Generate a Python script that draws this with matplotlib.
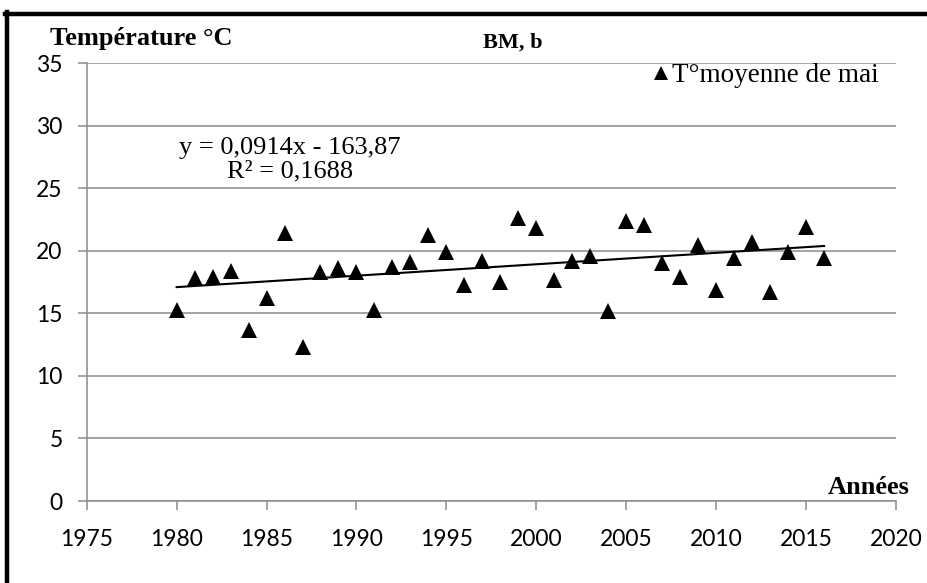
import matplotlib
matplotlib.use("Agg")
import matplotlib.pyplot as plt
from matplotlib.lines import Line2D
import numpy as np

years = [1980, 1981, 1982, 1983, 1984, 1985, 1986, 1987, 1988, 1989,
         1990, 1991, 1992, 1993, 1994, 1995, 1996, 1997, 1998, 1999,
         2000, 2001, 2002, 2003, 2004, 2005, 2006, 2007, 2008, 2009,
         2010, 2011, 2012, 2013, 2014, 2015, 2016]
temps = [15.3, 17.8, 17.9, 18.4, 13.7, 16.2, 21.4, 12.3, 18.3, 18.6,
         18.3, 15.3, 18.7, 19.1, 21.3, 19.9, 17.3, 19.2, 17.5, 22.6,
         21.8, 17.7, 19.2, 19.6, 15.2, 22.4, 22.1, 19.0, 17.9, 20.5,
         16.9, 19.4, 20.7, 16.7, 19.9, 21.9, 19.4]
slope = 0.0914
intercept = -163.87
xticks = [1975, 1980, 1985, 1990, 1995, 2000, 2005, 2010, 2015, 2020]
yticks = [0, 5, 10, 15, 20, 25, 30, 35]
series_label = "T°moyenne de mai"
eq_line1 = "y = 0,0914x - 163,87"
eq_line2 = "R² = 0,1688"

W, H = 927, 583
fig = plt.figure(figsize=(W / 100, H / 100), dpi=100)
ax = fig.add_axes([86.7 / W, 1 - 501 / H, (896 - 86.7) / W, (501 - 63.3) / H])

grey = "#8c8c8c"
ax.set_xlim(1975, 2020)
ax.set_ylim(0, 35)
ax.set_xticks(xticks)
ax.set_yticks(yticks)
ax.yaxis.grid(True, color=grey, lw=1.1)
ax.set_axisbelow(True)
for s in ["top", "right"]:
    ax.spines[s].set_visible(False)
for s in ["left", "bottom"]:
    ax.spines[s].set_color(grey)
    ax.spines[s].set_linewidth(1.1)
ax.tick_params(axis="both", colors=grey, length=6.3, width=1.1, direction="out")
ax.tick_params(axis="y", pad=11, labelcolor="black", labelsize=16.5)
ax.tick_params(axis="x", pad=13.5, labelcolor="black", labelsize=16.5)
for lab in ax.get_xticklabels() + ax.get_yticklabels():
    lab.set_fontfamily("Lato")

# scatter
ax.plot(years, temps, linestyle="none", marker="^", markersize=11.5,
        color="black", markeredgewidth=0, label=series_label, zorder=3)

# trendline
tx = np.array([years[0], years[-1]])
ax.plot(tx, slope * tx + intercept, color="black", lw=1.5, zorder=2)

# legend
leg = ax.legend(loc="upper right", bbox_to_anchor=((879 - 86.7) / (896 - 86.7), (501 - 63) / (501 - 63.3)),
                frameon=False, borderpad=0, borderaxespad=0, handlelength=0.6,
                handletextpad=0.12, markerscale=0.85,
                prop={"family": "Liberation Serif", "size": 19.5})

def ftext(x, y, s, **kw):
    fig.text(x / W, 1 - y / H, s, va="baseline", **kw)

ftext(290, 154, eq_line1, family="Liberation Serif", size=19, ha="center")
ftext(290, 177, eq_line2, family="Liberation Serif", size=19, ha="center")
ftext(50, 45, "Température °C", family="Liberation Serif", weight="bold", size=19)
ftext(483, 48, "BM, b", family="Liberation Serif", weight="bold", size=16)
ftext(828, 494, "Années", family="Liberation Serif", weight="bold", size=19)

# outer frame (cropped at right and bottom)
fig.add_artist(Line2D([5 / W, 1.0], [1 - 14 / H, 1 - 14 / H], color="black", lw=3.2,
                      transform=fig.transFigure))
fig.add_artist(Line2D([7 / W, 7 / W], [1 - 12 / H, 0.0], color="black", lw=3.2,
                      transform=fig.transFigure))

fig.savefig("out.png", dpi=100)
